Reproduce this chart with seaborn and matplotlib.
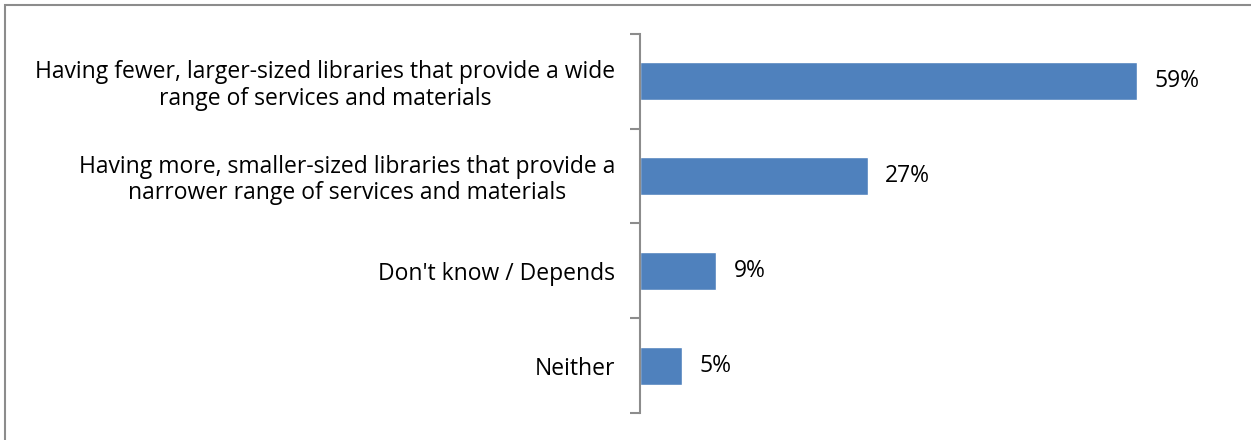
import matplotlib
matplotlib.use("Agg")
import matplotlib.pyplot as plt
from matplotlib.patches import Rectangle
import seaborn as sns
import pandas as pd

categories = [
    "Having fewer, larger-sized libraries that provide a wide\nrange of services and materials",
    "Having more, smaller-sized libraries that provide a\nnarrower range of services and materials",
    "Don't know / Depends",
    "Neither",
]
values = [59, 27, 9, 5]
value_labels = ["59%", "27%", "9%", "5%"]

df = pd.DataFrame({"option": categories, "share": values})

sns.set_theme(style="white")
plt.rcParams["font.family"] = ["Open Sans", "DejaVu Sans"]

fig = plt.figure(figsize=(12.51, 4.4), dpi=100)
fig.patch.set_facecolor("white")

# outer frame of the chart area
fig.add_artist(Rectangle((5 / 1251, -0.1), 1.2, (440 - 5.5) / 440 + 0.1,
                         transform=fig.transFigure, fill=False,
                         edgecolor="#8c8c8c", linewidth=1.5))

ax = fig.add_axes([640 / 1251, 27 / 440, 590 / 1251, 379 / 440])
sns.barplot(data=df, x="share", y="option", orient="h", color="#4F81BD",
            width=0.4, saturation=1, ax=ax)

ax.set_xlim(0, 70)
ax.set_ylim(3.5, -0.5)
ax.set_xlabel("")
ax.set_ylabel("")
ax.set_xticks([])

for s in ["top", "right", "bottom"]:
    ax.spines[s].set_visible(False)
ax.spines["left"].set_color("#8c8c8c")
ax.spines["left"].set_linewidth(1.5)

ax.set_yticks(range(len(categories)))
ax.set_yticklabels(categories, fontsize=16.5, color="black",
                   multialignment="center", linespacing=1.12)
ax.tick_params(axis="y", which="major", left=False, length=0, pad=18)
ax.set_yticks([i - 0.5 for i in range(len(categories) + 1)], minor=True)
ax.tick_params(axis="y", which="minor", left=True, length=7, width=1.5,
               color="#8c8c8c", direction="out")

for i, (v, lab) in enumerate(zip(values, value_labels)):
    ax.text(v + 2.1, i, lab, va="center", ha="left", fontsize=16.5,
            color="black")

fig.savefig("out.png", dpi=100, facecolor="white")
